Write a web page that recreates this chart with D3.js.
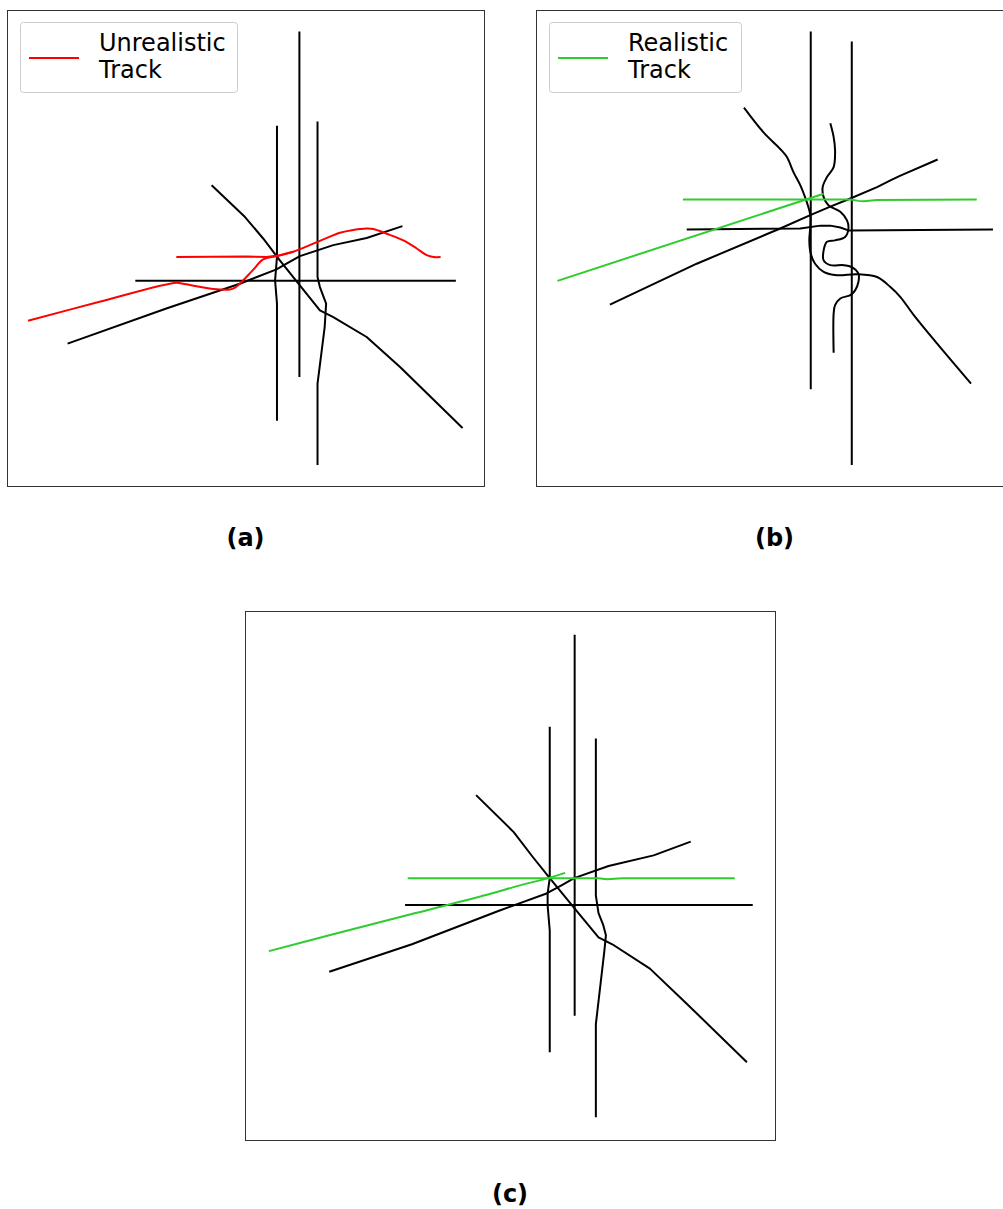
<!DOCTYPE html>
<html lang="en">
<head>
    <meta charset="utf-8">
    <style>
        html, body { margin:0; padding:0; background:#fff; overflow:hidden }
        svg { display:block; font-family: "DejaVu Sans", sans-serif; }
        .frame { fill: none; stroke: #333; stroke-width: 1px; }
        .track { fill: none; stroke-width: 2px; stroke-linejoin: round; stroke-linecap: butt; }
        .legend-box { fill: #fff; fill-opacity: .8; stroke: #ccc; stroke-width: 1px; }
        .legend-text { font-size: 24px; fill: #000; }
        .caption { font-size: 24px; font-weight: bold; text-anchor: middle; fill: #000; }
    </style>
</head>
<body>
<svg width="1003" height="1209"></svg>

<script src="https://d3js.org/d3.v7.min.js"></script>
<script>
    // map units, 0-100 in each panel, y pointing up

    // (a) road network + unrealistic track
    var roadsA = [
        [[56.6,75.7],[56.6,48.1],[56.2,43.2],[56.6,38.3],[56.6,13.7]],
        [[61.3,95.5],[61.3,22.9]],
        [[65.1,76.6],[65.1,43.9],[65.6,41.8],[66.9,38.3],[66.6,33.4],[65.1,21.5],[65.1,4.4]],
        [[42.9,63.2],[49.9,56.5],[53.7,52.0],[57.2,47.4],[61.1,42.5],[65.6,36.9],[68.4,35.5],[75.4,31.3],[82.4,25.0],[95.5,12.2]],
        [[12.7,29.9],[33.4,37.3],[48.8,42.5],[56.5,45.5],[58.6,46.7],[61.4,48.3],[68.4,50.6],[75.4,52.1],[82.9,54.6]],
        [[26.9,43.1],[94.1,43.1]]
    ];
    var trackA = [
        [[4.4,34.7],[19.4,38.7],[35.5,42.7],[36.9,42.5],[43.2,41.4],[46.7,41.3],[47.8,41.7],[48.8,42.5],[51.5,45.3],[53.7,47.6],[56.5,48.3],[60.0,49.2],[65.6,51.5],[69.8,53.2],[72.6,53.8],[75.4,54.1],[76.8,54.0],[79.6,53.0],[83.1,51.6],[85.9,49.9],[88.0,48.5],[89.4,48.1],[90.9,48.1]],
        [[35.5,48.1],[50.2,48.2],[54.4,48.1],[57.2,48.5],[60.0,49.2]]
    ];

    // (b) road network + realistic track
    var roadsB = [
        [[57.6,95.5],[57.6,20.3]],
        [[66.2,93.4],[66.2,4.4]],
        [[43.6,79.5],[47.7,74.3],[51.2,70.8],[52.6,69.1],[54.0,65.9],[55.4,63.2],[56.4,60.7],[57.1,58.6],[57.5,56.9],[57.5,54.4],[57.3,51.6],[57.6,48.8],[58.5,46.7],[60.3,45.0],[63.1,44.3],[67.3,44.5],[71.5,43.9],[74.3,41.8],[76.4,39.7],[79.2,35.9],[84.1,29.9],[91.2,21.5]],
        [[31.6,53.9],[55.4,54.1],[59.6,54.7],[61.7,54.7],[63.8,54.3],[65.5,53.7],[95.8,53.9]],
        [[61.7,76.2],[62.4,73.3],[62.7,70.5],[62.4,67.0],[61.0,64.9],[60.1,62.8],[60.3,60.7],[61.3,59.0],[63.8,57.6],[65.2,55.8],[65.5,54.1],[64.8,52.3],[62.7,51.6],[61.0,51.3],[60.3,49.5],[60.3,47.4],[61.7,46.4],[64.5,46.4],[66.2,46.0],[67.6,44.6],[67.6,42.9],[66.9,41.1],[65.9,40.1],[63.8,39.4],[62.7,38.0],[62.4,36.2],[62.4,28.0]],
        [[15.5,38.1],[33.7,46.7],[51.2,54.1],[57.5,56.9],[61.7,58.7],[65.9,60.4],[71.5,62.8],[74.3,64.2],[76.4,65.2],[84.2,68.6]]
    ];
    var trackB = [
        [[30.8,60.2],[65.9,60.2],[67.6,59.9],[68.7,59.8],[71.5,60.1],[92.4,60.2]],
        [[4.5,43.1],[60.3,61.4]]
    ];

    // (c) road network + realistic track
    var roadsC = [
        [[57.5,78.1],[57.5,49.5],[57.1,46.6],[57.1,44.3],[57.5,39.6],[57.5,16.6]],
        [[62.2,95.5],[62.2,23.5]],
        [[66.2,75.9],[66.2,46.2],[66.7,42.9],[67.6,40.6],[68.1,38.7],[67.8,35.7],[66.2,21.9],[66.2,4.3]],
        [[43.6,65.2],[50.7,58.2],[54.3,53.5],[57.5,49.5],[62.1,43.9],[66.7,38.3],[69.3,37.0],[76.4,32.4],[82.9,26.2],[94.7,14.7]],
        [[15.9,31.8],[31.5,37.0],[47.8,43.3],[56.9,46.6],[59.8,48.2],[62.1,49.5],[68.6,51.8],[77.1,53.8],[84.1,56.4]],
        [[30.2,44.4],[95.8,44.4]]
    ];
    var trackC = [
        [[30.7,49.5],[66.7,49.5],[68.3,49.3],[71.2,49.5],[92.4,49.5]],
        [[4.5,35.7],[15.9,38.7],[32.2,42.9],[46.5,46.6],[51.0,47.9],[57.5,49.6],[60.4,50.5]]
    ];

    var legendLabels = {a: ["Unrealistic", "Track"], b: ["Realistic", "Track"]};
    var captions = ["(a)", "(b)", "(c)"];

    var RED = "#ff0000", GREEN = "#2ecc2e";

    var svg = d3.select("svg");

    function drawPanel(opt) {
        var x = d3.scaleLinear().domain([0, 100]).range([opt.left, opt.left + opt.w]);
        var y = d3.scaleLinear().domain([0, 100]).range([opt.top + opt.h, opt.top]);

        var straight = d3.line()
            .x(function (d) { return x(d[0]); })
            .y(function (d) { return y(d[1]); });
        var smooth = d3.line()
            .x(function (d) { return x(d[0]); })
            .y(function (d) { return y(d[1]); })
            .curve(d3.curveCatmullRom.alpha(0.5));

        var g = svg.append("g");

        // long sampled roads (the winding ones) get smoothed, the rest stay polylines
        g.selectAll(".road")
            .data(opt.roads)
            .enter()
            .append("path")
            .attr("class", "track road")
            .attr("stroke", "#000")
            .attr("d", function (d) { return d.length > 12 ? smooth(d) : straight(d); });

        g.selectAll(".gps")
            .data(opt.track)
            .enter()
            .append("path")
            .attr("class", "track gps")
            .attr("stroke", opt.color)
            .attr("d", function (d) { return d.length > 6 ? smooth(d) : straight(d); });

        g.append("rect")
            .attr("class", "frame")
            .attr("x", opt.left + 0.5)
            .attr("y", opt.top + 0.5)
            .attr("width", opt.w)
            .attr("height", opt.h);

        if (opt.legend) {
            var lg = g.append("g").attr("transform", "translate(" + (opt.left + 13) + "," + (opt.top + 12) + ")");
            lg.append("rect")
                .attr("class", "legend-box")
                .attr("x", 0.5).attr("y", 0.5)
                .attr("rx", 3).attr("ry", 3)
                .attr("width", opt.legendW)
                .attr("height", 70);
            lg.append("line")
                .attr("x1", 9).attr("x2", 59)
                .attr("y1", 36).attr("y2", 36)
                .attr("stroke", opt.color)
                .attr("stroke-width", 2);
            lg.selectAll("text")
                .data(opt.legend)
                .enter()
                .append("text")
                .attr("class", "legend-text")
                .attr("x", 79)
                .attr("y", function (d, i) { return 29 + i * 27; })
                .text(function (d) { return d; });
        }

        svg.append("text")
            .attr("class", "caption")
            .attr("x", opt.left + opt.w / 2)
            .attr("y", opt.top + opt.h + opt.capGap)
            .text(opt.caption);
    }

    drawPanel({left: 7, top: 10, w: 477, h: 476, roads: roadsA, track: trackA, color: RED,
               legend: legendLabels.a, legendW: 217, caption: captions[0], capGap: 60});
    drawPanel({left: 536, top: 10, w: 477, h: 476, roads: roadsB, track: trackB, color: GREEN,
               legend: legendLabels.b, legendW: 192, caption: captions[1], capGap: 60});
    drawPanel({left: 245, top: 611, w: 530, h: 529, roads: roadsC, track: trackC, color: GREEN,
               legend: null, caption: captions[2], capGap: 62});
</script>
</body>
</html>
